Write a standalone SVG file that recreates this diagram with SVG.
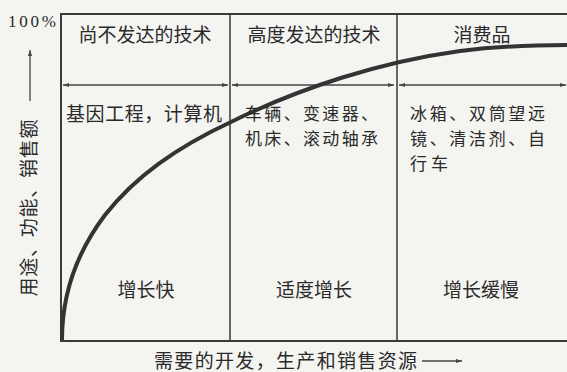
<svg xmlns="http://www.w3.org/2000/svg" width="567" height="372" viewBox="0 0 567 372">
<style>
.t{font-family:"Noto Sans CJK SC","Liberation Serif",serif;font-size:19px;fill:#2a2a2a}
.s{font-size:17px}
.c{text-anchor:middle}
.frame{stroke:#3a3a3a;stroke-width:2;fill:none}
.div{stroke:#3a3a3a;stroke-width:1.5;fill:none}
.arr{stroke:#444;stroke-width:1.3;fill:none}
</style>
<defs>
<marker id="ah" viewBox="0 0 10 10" refX="10" refY="5" markerWidth="9" markerHeight="6" orient="auto-start-reverse" markerUnits="userSpaceOnUse">
<path d="M0,1.5 L10,5 L0,8.5 Z" fill="#444"/>
</marker>
</defs>
<rect width="567" height="372" fill="#f4f4f1"/>
<g id="frame">
<path class="frame" d="M567,14 H61 V341 H567"/>
<path class="div" d="M230,14 V341 M397,14 V341"/>
</g>
<g id="connectors">
<line class="arr" x1="63" y1="85" x2="228" y2="85" marker-start="url(#ah)" marker-end="url(#ah)"/>
<line class="arr" x1="232" y1="85" x2="394" y2="85" marker-start="url(#ah)" marker-end="url(#ah)"/>
<line class="arr" x1="399" y1="85" x2="566" y2="85" marker-start="url(#ah)" marker-end="url(#ah)"/>
<path d="M62,340 C62,290 80,248 105,215 C135,177 175,148 233,121 C300,88 380,62 460,51 C500,46 540,45 567,45" fill="none" stroke="#333" stroke-width="4"/>
<line class="arr" x1="30" y1="101" x2="30" y2="50" marker-end="url(#ah)"/>
<line class="arr" x1="422" y1="361" x2="462" y2="361" marker-end="url(#ah)"/>
</g>
<g id="axis-labels">
<text x="8" y="27" textLength="48" style="font-family:'Liberation Serif',serif;font-size:17px;fill:#2a2a2a">100%</text>
<text class="t c" transform="translate(36,208) rotate(-90)" textLength="177">用途、功能、销售额</text>
<text class="t" x="154" y="368" textLength="263">需要的开发，生产和销售资源</text>
</g>
<g id="col1">
<text class="t c" x="145" y="42">尚不发达的技术</text>
<text class="t" x="66" y="121" textLength="156">基因工程，计算机</text>
<text class="t c" x="146" y="297">增长快</text>
</g>
<g id="col2">
<text class="t c" x="314" y="42">高度发达的技术</text>
<text class="t s" x="245" y="120" textLength="133">车辆、变速器、</text>
<text class="t s" x="245" y="145" textLength="133">机床、滚动轴承</text>
<text class="t c" x="314" y="297">适度增长</text>
</g>
<g id="col3">
<text class="t c" x="482" y="42">消费品</text>
<text class="t s" x="410" y="120" textLength="135">冰箱、双筒望远</text>
<text class="t s" x="410" y="145" textLength="135">镜、清洁剂、自</text>
<text class="t s" x="410" y="170" textLength="38">行车</text>
<text class="t c" x="481" y="297">增长缓慢</text>
</g>
</svg>
